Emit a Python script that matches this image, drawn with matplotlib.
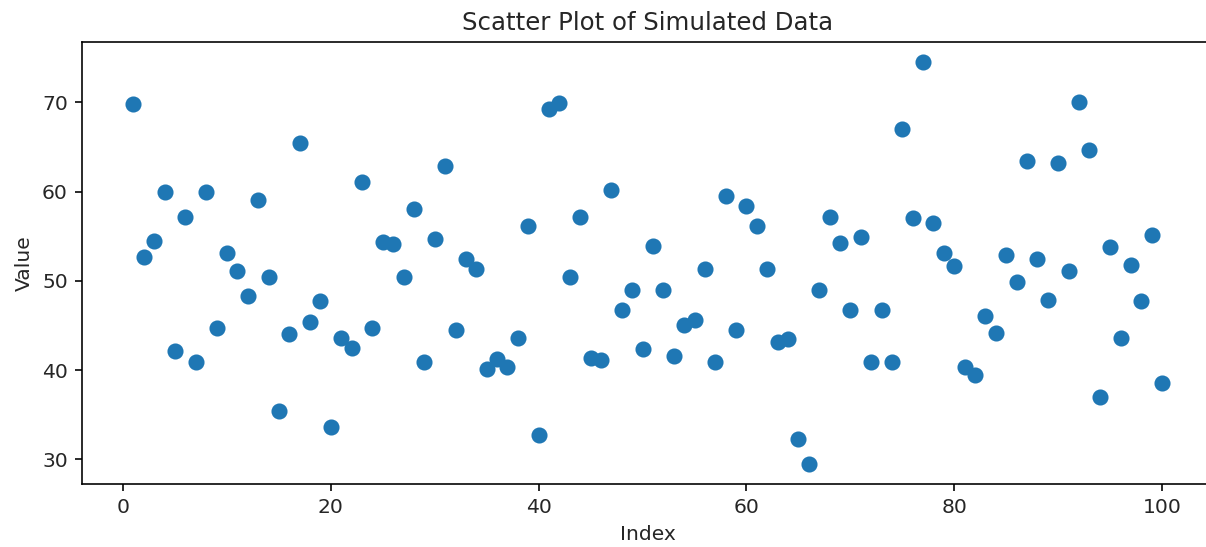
import matplotlib
matplotlib.use("Agg")
import matplotlib.pyplot as plt

DPI = 146

index = list(range(1, 101))
values = [
    69.8, 52.7, 54.5, 60.0, 42.2, 57.2, 40.9, 60.0, 44.7, 53.1,
    51.1, 48.3, 59.1, 50.4, 35.4, 44.1, 65.4, 45.4, 47.7, 33.6,
    43.6, 42.5, 61.1, 44.7, 54.3, 54.1, 50.4, 58.1, 40.9, 54.7,
    62.9, 44.5, 52.4, 51.3, 40.1, 41.3, 40.4, 43.6, 56.1, 32.7,
    69.2, 69.9, 50.4, 57.2, 41.4, 41.1, 60.2, 46.7, 49.0, 42.4,
    53.9, 49.0, 41.6, 45.1, 45.6, 51.3, 40.9, 59.5, 44.5, 58.4,
    56.1, 51.3, 43.1, 43.5, 32.3, 29.5, 49.0, 57.2, 54.2, 46.7,
    54.9, 40.9, 46.7, 40.9, 67.0, 57.0, 74.5, 56.5, 53.1, 51.7,
    40.4, 39.5, 46.1, 44.2, 52.9, 49.9, 63.4, 52.5, 47.9, 63.2,
    51.1, 70.0, 64.7, 37.0, 53.8, 43.6, 51.8, 47.7, 55.1, 38.6,
]

plt.rcParams["text.color"] = "#262626"
plt.rcParams["axes.labelcolor"] = "#262626"
plt.rcParams["xtick.labelcolor"] = "#262626"
plt.rcParams["ytick.labelcolor"] = "#262626"

fig = plt.figure(figsize=(1206 / DPI, 547 / DPI), dpi=DPI)
# the right spine sits just past the picture edge, as in the reference crop
ax = fig.add_axes([82 / 1206, 1 - 484 / 547, (1213.5 - 82) / 1206, (484 - 42) / 547])
ax.scatter(index, values, s=48, color="#1f77b4")
ax.set_title("Scatter Plot of Simulated Data")
ax.set_xlabel("Index")
ax.set_ylabel("Value")

fig.savefig("out.png", dpi=DPI)
